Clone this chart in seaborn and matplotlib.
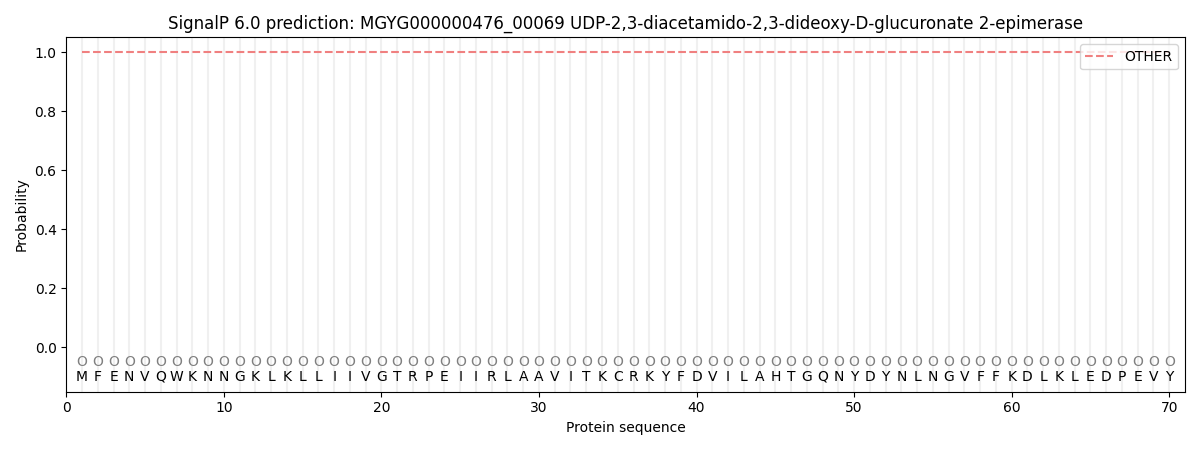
import matplotlib
matplotlib.use("Agg")
import matplotlib.pyplot as plt
import numpy as np
import pandas as pd
import seaborn as sns

sequence = list("MFENVQWKNNGKLKLLIIVGTRPEIIRLAAVITKCRKYFDVILAHTGQNYDYNLNGVFFKDLKLEDPEVY")
positions = list(range(1, len(sequence) + 1))
other_prob = [1.0] * len(sequence)
pred_labels = ["O"] * len(sequence)

df = pd.DataFrame({"pos": positions, "OTHER": other_prob})

fig, ax = plt.subplots(figsize=(12, 4.5), dpi=100)

for p in positions:
    ax.axvline(p, color="#e6e6e6", linewidth=1.5, alpha=0.6, zorder=0)

sns.lineplot(data=df, x="pos", y="OTHER", ax=ax, color="#f08080",
             linestyle="--", linewidth=1.5, label="OTHER")

for p, lab, aa in zip(positions, pred_labels, sequence):
    ax.text(p, -0.05, lab, ha="center", va="center", fontsize=10, color="gray")
    ax.text(p, -0.1, aa, ha="center", va="center", fontsize=10, color="black")

ax.set_xlim(0, len(sequence) + 1)
ax.set_ylim(-0.15, 1.05)
ax.set_xlabel("Protein sequence")
ax.set_ylabel("Probability")
ax.set_title("SignalP 6.0 prediction: MGYG000000476_00069 UDP-2,3-diacetamido-2,3-dideoxy-D-glucuronate 2-epimerase")
ax.legend(loc="upper right")

plt.tight_layout()
plt.savefig("out.png", dpi=100)
plt.close()
